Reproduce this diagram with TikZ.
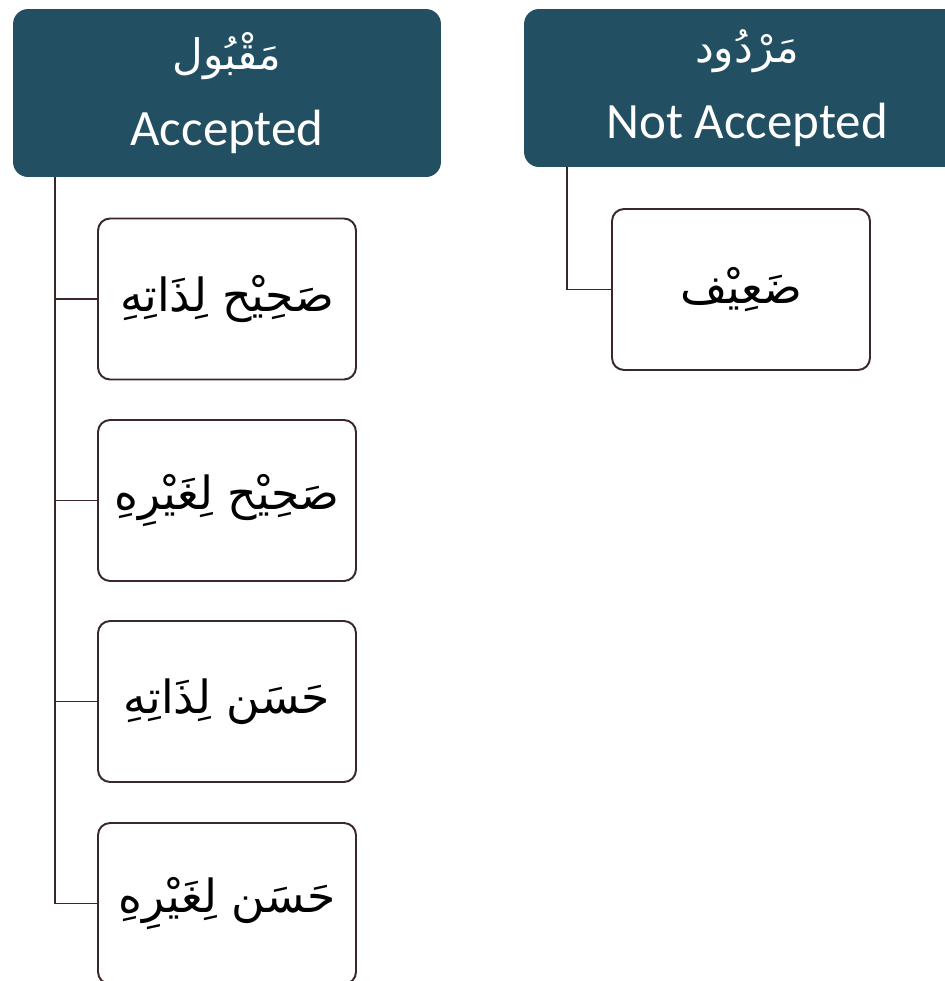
\documentclass[tikz,border=0pt]{standalone}
\usepackage{fontspec}
\setmainfont{Carlito}
\newfontfamily\arabicfont[Script=Arabic]{DejaVu Sans}
\TeXXeTstate=1
\usepackage{xcolor}
\definecolor{headblue}{HTML}{234F63}
\definecolor{linebrown}{HTML}{3A2828}
\newcommand{\ar}[1]{{\arabicfont\beginR #1\endR}}

\begin{document}
\begin{tikzpicture}[x=0.02cm,y=-0.02cm,
		head/.style={fill=headblue,text=white,rounded corners=0.3cm,
			align=center,inner sep=0pt,font=\fontsize{29}{34}\selectfont},
		kind/.style={draw=linebrown,line width=1.1pt,fill=white,rounded corners=0.24cm,
			minimum width=5.16cm,minimum height=3.22cm,inner sep=0pt,
			font=\fontsize{26}{30}\selectfont},
		branch/.style={draw=linebrown,line width=1.1pt}]
		\useasboundingbox (0,0) rectangle (945,981);
		
		\node[head,minimum width=8.56cm,minimum height=3.36cm] (acc) at (227,93)
		{{\fontsize{24}{44}\selectfont\ar{مَقْبُول}}\\[9pt]Accepted};
		\node[head,minimum width=8.92cm,minimum height=3.16cm] (nacc) at (747,88)
		{{\fontsize{24}{44}\selectfont\ar{مَرْدُود}}\\[9pt]Not Accepted};
		
		\node[kind] (k1) at (227,299) {\ar{صَحِيْح لِذَاتِهِ}};
		\node[kind] (k2) at (227,500.5) {\ar{صَحِيْح لِغَيْرِهِ}};
		\node[kind] (k3) at (227,701.5) {\ar{حَسَن لِذَاتِهِ}};
		\node[kind] (k4) at (227,903.5) {\ar{حَسَن لِغَيْرِهِ}};
		\node[kind] (daif) at (741,289.5) {\ar{ضَعِيْف}};
		
		\coordinate (trunk) at ([xshift=0.84cm]acc.south west);
		\coordinate (rtrunk) at ([xshift=0.86cm]nacc.south west);
		\foreach \k in {k1,k2,k3,k4}
		\draw[branch] (trunk) |- (\k.west);
		\draw[branch] (rtrunk) |- (daif.west);
	\end{tikzpicture}
\end{document}
